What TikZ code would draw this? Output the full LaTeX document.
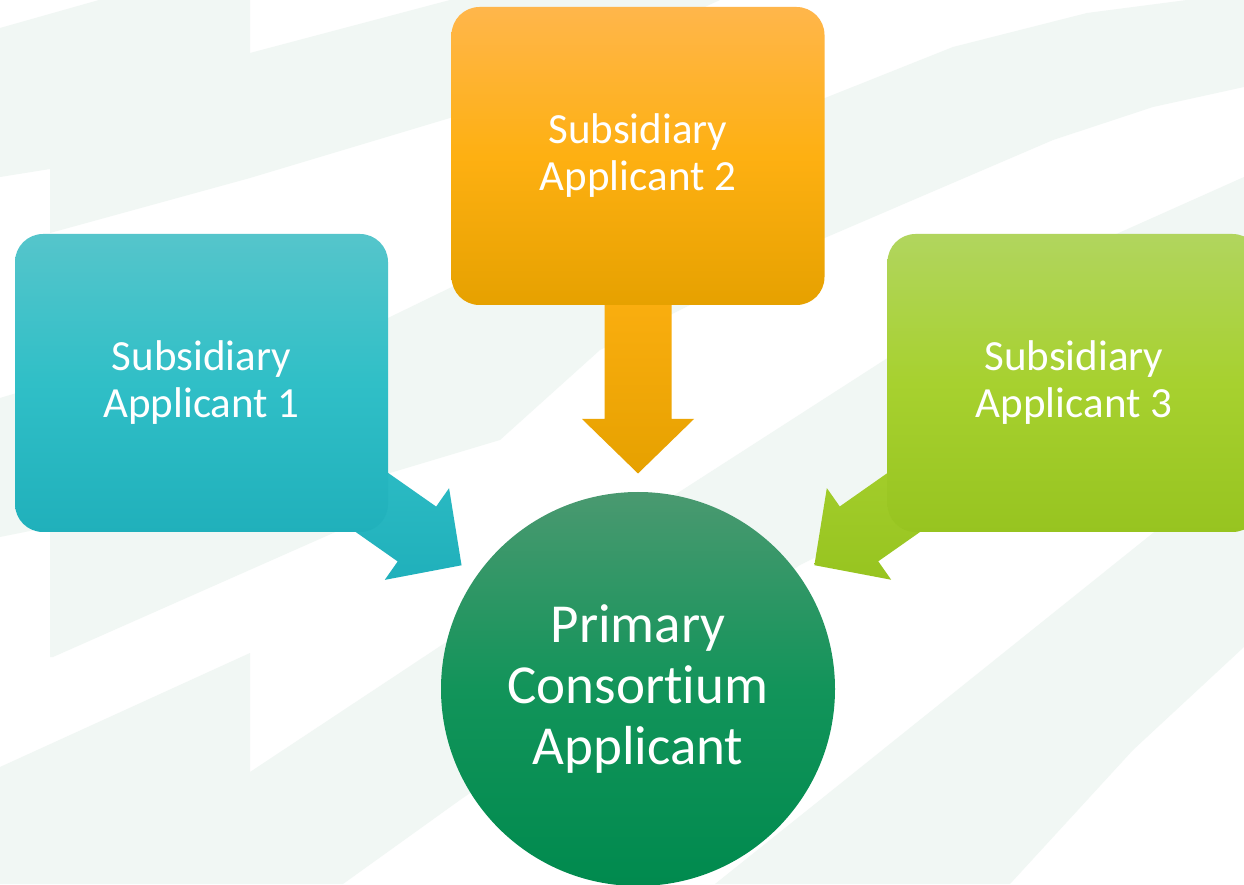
\documentclass[tikz,border=0pt]{standalone}
\usepackage{fontspec}
\setmainfont[Ligatures={NoCommon}]{Carlito}
\usetikzlibrary{calc}
\definecolor{bgl}{HTML}{F1F7F4}
\definecolor{tealT}{HTML}{55C5CB}
\definecolor{tealM}{HTML}{30BFC7}
\definecolor{tealB}{HTML}{20B0BB}
\definecolor{orgT}{HTML}{FFB64B}
\definecolor{orgM}{HTML}{FEB012}
\definecolor{orgB}{HTML}{E6A100}
\definecolor{limT}{HTML}{B1D55E}
\definecolor{limM}{HTML}{A7D12F}
\definecolor{limB}{HTML}{97C420}
\definecolor{hubT}{HTML}{4A9970}
\definecolor{hubM}{HTML}{12945A}
\definecolor{hubB}{HTML}{008A4E}
\pgfdeclarelayer{bg}
\pgfdeclarelayer{arrows}
\pgfsetlayers{bg,arrows,main}
\tikzset{
  bgband/.style={fill=bgl, draw=none},
  appbox/.style={rounded corners=28pt, minimum width=373pt, minimum height=298pt,
    inner sep=0pt, text=white, align=center, font=\fontsize{43}{47}\selectfont},
  hubnode/.style={circle, minimum size=394pt, inner sep=0pt, text=white,
    align=center, font=\fontsize{55}{61}\selectfont},
}
\newcommand{\feedarrow}[2]{%
  \shade[#2] ($(hub.center)!215.5pt!(#1.center)$)
    -- ($(hub.center)!270pt!(#1.center)!56pt!90:(#1.center)$)
    -- ($(hub.center)!270pt!(#1.center)!33.5pt!90:(#1.center)$)
    -- ($(hub.center)!420pt!(#1.center)!33.5pt!90:(#1.center)$)
    -- ($(hub.center)!420pt!(#1.center)!33.5pt!-90:(#1.center)$)
    -- ($(hub.center)!270pt!(#1.center)!33.5pt!-90:(#1.center)$)
    -- ($(hub.center)!270pt!(#1.center)!56pt!-90:(#1.center)$)
    -- cycle;}
\begin{document}
\begin{tikzpicture}[x=1pt,y=1pt]
\clip (0,0) rectangle (1244,884);
\begin{pgfonlayer}{bg}
\fill[white] (0,0) rectangle (1244,884);
\begin{scope}[shift={(0,884)}, yscale=-1]
  \fill[bgband] (0,28) -- (99,0) -- (250,0) -- (250,53) -- (450,0) -- (720,0)
    -- (600,55) -- (450,118) -- (250,178) -- (50,233) -- (50,169) -- (0,177) -- cycle;
  \fill[bgband] (0,398) -- (50,383) -- (388,318) -- (600,215) -- (820,100)
    -- (953,47) -- (1087,13) -- (1187,0) -- (1244,0) -- (1244,87) -- (1153,107)
    -- (1053,140) -- (920,197) -- (820,240) -- (600,350) -- (500,440) -- (390,473)
    -- (340,530) -- (53,657) -- (50,657) -- (50,527) -- (0,537) -- cycle;
  \fill[bgband] (0,767) -- (250,653) -- (250,772) -- (460,633) -- (900,350)
    -- (1103,240) -- (1244,177) -- (1244,320) -- (890,520) -- (800,565)
    -- (460,800) -- (343,884) -- (0,884) -- cycle;
  \fill[bgband] (715,884) -- (820,800) -- (1153,533) -- (1244,460) -- (1244,647)
    -- (1133,750) -- (1010,884) -- cycle;
\end{scope}
\end{pgfonlayer}

\node[appbox, top color=tealT, bottom color=tealB, middle color=tealM]
  (b1) at (201.5,501) {Subsidiary\\Applicant 1};
\node[appbox, top color=orgT, bottom color=orgB, middle color=orgM]
  (b2) at (638,728) {Subsidiary\\Applicant 2};
\node[appbox, top color=limT, bottom color=limB, middle color=limM]
  (b3) at (1074,501) {Subsidiary\\Applicant 3};
\node[hubnode, top color=hubT, bottom color=hubB, middle color=hubM]
  (hub) at (638,195) {Primary\\Consortium\\Applicant};

\begin{pgfonlayer}{arrows}
\feedarrow{b1}{top color=tealM, bottom color=tealB}
\feedarrow{b2}{top color=orgM, bottom color=orgB}
\feedarrow{b3}{top color=limM, bottom color=limB}
\end{pgfonlayer}
\end{tikzpicture}
\end{document}
